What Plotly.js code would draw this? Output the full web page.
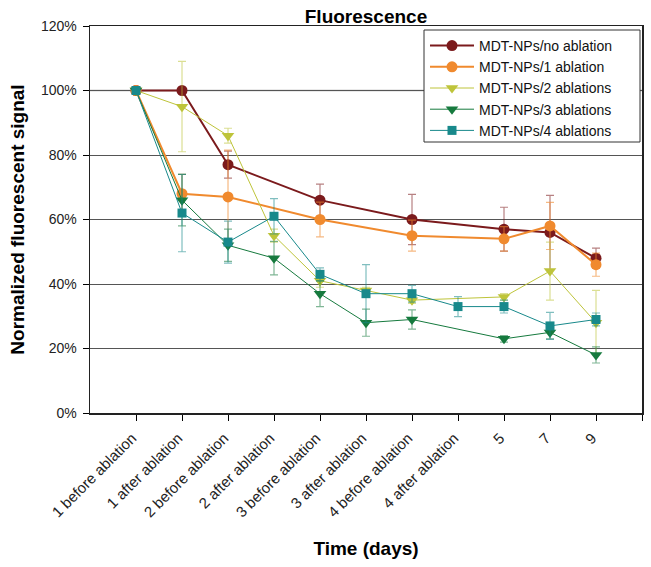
<!DOCTYPE html>
<html>
<head>
<meta charset="utf-8">
<script src="https://cdn.plot.ly/plotly-3.0.1.min.js"></script>
<style>html,body{margin:0;padding:0;background:#fff;}#chart{width:651px;height:567px;}</style>
</head>
<body>
<div id="chart"></div>
<script>
// Categories (x axis)
const categories = ['1 before ablation','1 after ablation','2 before ablation','2 after ablation','3 before ablation','3 after ablation','4 before ablation','4 after ablation','5','7','9'];

// Series values (%) and error bars
const seriesNames = ['MDT-NPs/no ablation','MDT-NPs/1 ablation','MDT-NPs/2 ablations','MDT-NPs/3 ablations','MDT-NPs/4 ablations'];
const noAblation    = [100,100,77,null,66,null,60,null,57,56,48];
const noAblationErr = [0,0,4.2,null,5,null,7.8,null,6.8,11.5,3.1];
const oneAblation    = [100,68,67,null,60,null,55,null,54,58,46];
const oneAblationErr = [0,6,14.5,null,5.4,null,4.8,null,3.8,7.3,3.6];
const twoAblations    = [100,95,86,55,41,38,35,null,36,44,28];
const twoAblationsErr = [0,14,2.3,2,2,1,1,null,1,9,10];
const threeAblations    = [100,66,52,48,37,28,29,null,23,25,18];
const threeAblationsErr = [0,8,5,5.2,4,4.2,3,null,1,2,2.5];
const fourAblations    = [100,62,53,61,43,37,37,33,33,27,29];
const fourAblationsErr = [0,12,6.5,5.5,2,9,2.6,3.1,2,4.2,2];

const xIdx = categories.map((c,i)=>i);
const FONT = 'Arial, "Liberation Sans", sans-serif';

function mk(name, y, err, color, errColor, symbol, size, lw){
  return {
    type:'scatter', mode:'lines+markers', name:name, x:xIdx, y:y, connectgaps:true,
    line:{color:color, width:lw},
    marker:{color:color, symbol:symbol, size:size, line:{width:0}},
    error_y:{type:'data', array:err, visible:true, color:errColor, thickness:1.2, width:4}
  };
}

const traces = [
  mk(seriesNames[0], noAblation, noAblationErr, '#7B1A1C', 'rgba(123,26,28,0.55)', 'circle', 11, 2),
  mk(seriesNames[1], oneAblation, oneAblationErr, '#F08A2E', 'rgba(240,138,46,0.6)', 'circle', 11, 2),
  mk(seriesNames[2], twoAblations, twoAblationsErr, '#BEC43A', 'rgba(190,196,58,0.55)', 'triangle-down', 11, 1),
  mk(seriesNames[3], threeAblations, threeAblationsErr, '#167A3E', 'rgba(22,122,62,0.55)', 'triangle-down', 11, 1),
  mk(seriesNames[4], fourAblations, fourAblationsErr, '#18898B', 'rgba(24,137,139,0.55)', 'square', 9, 1)
];

const tickVals = xIdx.concat([categories.length]);
const tickText = categories.concat(['']);

// legend frame (pixel box converted to paper coords)
const L = 90, R = 651-9, T = 26, B = 567-154;
const px = v => (v - L) / (R - L);
const py = v => (B - v) / (B - T);

const layout = {
  width:651, height:567,
  margin:{l:90, r:9, t:26, b:154},
  paper_bgcolor:'#fff', plot_bgcolor:'#fff',
  font:{family:FONT, color:'#222', size:14},
  title:{text:'<b>Fluorescence</b>', font:{family:FONT, size:19, color:'#000'}, x:0.5, xref:'paper', y:1-16/567, yref:'container', yanchor:'middle'},
  showlegend:true,
  legend:{x:px(425), xanchor:'left', y:py(30), yanchor:'top', bgcolor:'rgba(0,0,0,0)', borderwidth:0,
          font:{family:FONT, size:14, color:'#111'}, tracegroupgap:0, itemwidth:44},
  xaxis:{
    range:[-1, categories.length], tickmode:'array', tickvals:tickVals, ticktext:tickText,
    tickangle:-45, ticks:'outside', ticklen:6, tickcolor:'#000', tickwidth:1, ticklabelshift:-4, ticklabelstandoff:3,
    showgrid:false, zeroline:false, showline:true, linecolor:'#222', linewidth:1.5, mirror:true,
    tickfont:{family:FONT, size:15, color:'#222'},
    title:{text:'<b>Time (days)</b>', font:{family:FONT, size:19, color:'#000'}, standoff:22}
  },
  yaxis:{
    range:[0,120], dtick:20, ticksuffix:'%', ticks:'outside', ticklen:6, tickcolor:'#000', tickwidth:1, ticklabelstandoff:3,
    showgrid:true, gridcolor:'#555', gridwidth:1, zeroline:false,
    showline:true, linecolor:'#222', linewidth:1.5, mirror:true,
    tickfont:{family:FONT, size:14, color:'#222'},
    title:{text:'<b>Normalized fluorescent signal</b>', font:{family:FONT, size:19, color:'#000'}, standoff:11}
  },
  shapes:[
    {type:'line', xref:'paper', x0:0, x1:1, yref:'y', y0:100, y1:100, line:{color:'#a8a8a8', width:1.5}, layer:'below'},
    {type:'rect', xref:'paper', yref:'paper', x0:px(424), x1:px(640), y0:py(142), y1:py(30), line:{color:'#333', width:1}, fillcolor:'#fff', layer:'above'}
  ]
};

Plotly.newPlot('chart', traces, layout, {displayModeBar:false, staticPlot:true});
</script>
</body>
</html>
